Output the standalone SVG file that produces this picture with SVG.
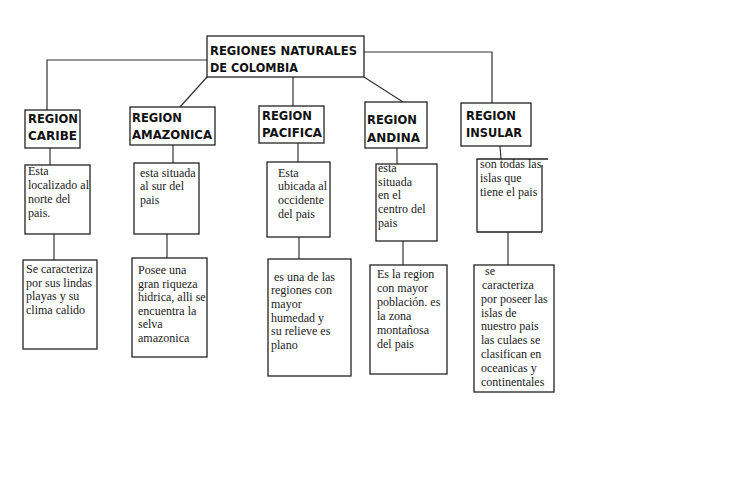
<svg xmlns="http://www.w3.org/2000/svg" width="735" height="485" viewBox="0 0 735 485">
<style>
.bx{fill:#fff;stroke:#222;stroke-width:1.3}
.ln{fill:none;stroke:#333;stroke-width:1.2}
.t{font-family:"DejaVu Sans","Liberation Sans",sans-serif;font-weight:bold;font-size:12px;fill:#111}
.b{font-family:"Liberation Serif","DejaVu Serif",serif;font-size:12px;fill:#222}
</style>
<rect width="735" height="485" fill="#fff"/>
<g id="connectors">
<polyline class="ln" points="207,60 47,60 47,110"/>
<line class="ln" x1="207" y1="77" x2="180" y2="107"/>
<line class="ln" x1="293" y1="77" x2="293" y2="106"/>
<line class="ln" x1="364" y1="77" x2="403" y2="102"/>
<polyline class="ln" points="364,52 492,52 492,103"/>
<line class="ln" x1="50" y1="148" x2="50" y2="165"/>
<line class="ln" x1="54" y1="234" x2="54" y2="260"/>
<line class="ln" x1="173" y1="145" x2="173" y2="163"/>
<line class="ln" x1="167" y1="234" x2="167" y2="258"/>
<line class="ln" x1="298" y1="143" x2="298" y2="162"/>
<line class="ln" x1="299" y1="237" x2="299" y2="259"/>
<line class="ln" x1="397" y1="148" x2="397" y2="164"/>
<line class="ln" x1="403" y1="241" x2="403" y2="265"/>
<line class="ln" x1="500" y1="146" x2="501" y2="159"/>
<line class="ln" x1="508" y1="232" x2="508" y2="265"/>
</g>
<g id="root">
<rect class="bx" x="207" y="36" width="157" height="41"/>
<text class="t" x="210" y="55" textLength="147" lengthAdjust="spacingAndGlyphs">REGIONES NATURALES</text>
<text class="t" x="210" y="72" textLength="88" lengthAdjust="spacingAndGlyphs">DE COLOMBIA</text>
</g>
<g id="caribe">
<rect class="bx" x="25" y="110" width="55" height="38"/>
<text class="t" x="28" y="123" textLength="50" lengthAdjust="spacingAndGlyphs">REGION</text>
<text class="t" x="28" y="140" textLength="49" lengthAdjust="spacingAndGlyphs">CARIBE</text>
</g>
<g id="amazonica">
<rect class="bx" x="130" y="107" width="85" height="38"/>
<text class="t" x="132" y="122" textLength="50" lengthAdjust="spacingAndGlyphs">REGION</text>
<text class="t" x="132" y="139" textLength="80" lengthAdjust="spacingAndGlyphs">AMAZONICA</text>
</g>
<g id="pacifica">
<rect class="bx" x="259" y="106" width="65" height="37"/>
<text class="t" x="262" y="120" textLength="50" lengthAdjust="spacingAndGlyphs">REGION</text>
<text class="t" x="262" y="137" textLength="60" lengthAdjust="spacingAndGlyphs">PACIFICA</text>
</g>
<g id="andina">
<rect class="bx" x="365" y="102" width="62" height="46"/>
<text class="t" x="367" y="124" textLength="50" lengthAdjust="spacingAndGlyphs">REGION</text>
<text class="t" x="367" y="142" textLength="53" lengthAdjust="spacingAndGlyphs">ANDINA</text>
</g>
<g id="insular">
<rect class="bx" x="461" y="103" width="70" height="43"/>
<text class="t" x="466" y="120" textLength="50" lengthAdjust="spacingAndGlyphs">REGION</text>
<text class="t" x="466" y="137" textLength="56" lengthAdjust="spacingAndGlyphs">INSULAR</text>
</g>
<g id="caribe-desc1">
<rect class="bx" x="25" y="165" width="65" height="69"/>
<text class="b" x="28" y="175">Esta</text>
<text class="b" x="28" y="189">localizado al</text>
<text class="b" x="28" y="203">norte del</text>
<text class="b" x="28" y="217">pais.</text>
</g>
<g id="caribe-desc2">
<rect class="bx" x="23" y="260" width="74" height="89"/>
<text class="b" x="26" y="273">Se caracteriza</text>
<text class="b" x="26" y="287">por sus lindas</text>
<text class="b" x="26" y="300">playas y su</text>
<text class="b" x="26" y="314">clima calido</text>
</g>
<g id="amazonica-desc1">
<rect class="bx" x="134" y="163" width="65" height="71"/>
<text class="b" x="140" y="177">esta situada</text>
<text class="b" x="140" y="190">al sur del</text>
<text class="b" x="140" y="204">pais</text>
</g>
<g id="amazonica-desc2">
<rect class="bx" x="132" y="258" width="75" height="99"/>
<text class="b" x="138" y="274">Posee una</text>
<text class="b" x="138" y="288">gran riqueza</text>
<text class="b" x="138" y="301">hidrica, alli se</text>
<text class="b" x="138" y="315">encuentra la</text>
<text class="b" x="138" y="328">selva</text>
<text class="b" x="138" y="342">amazonica</text>
</g>
<g id="pacifica-desc1">
<rect class="bx" x="267" y="162" width="63" height="75"/>
<text class="b" x="278" y="177">Esta</text>
<text class="b" x="278" y="190">ubicada al</text>
<text class="b" x="278" y="204">occidente</text>
<text class="b" x="278" y="218">del pais</text>
</g>
<g id="pacifica-desc2">
<rect class="bx" x="268" y="259" width="83" height="117"/>
<text class="b" x="271" y="281" xml:space="preserve"> es una de las</text>
<text class="b" x="271" y="294">regiones con</text>
<text class="b" x="271" y="308">mayor</text>
<text class="b" x="271" y="322">humedad y</text>
<text class="b" x="271" y="335">su relieve es</text>
<text class="b" x="271" y="349">plano</text>
</g>
<g id="andina-desc1">
<rect class="bx" x="376" y="164" width="61" height="77"/>
<text class="b" x="378" y="172">esta</text>
<text class="b" x="378" y="186">situada</text>
<text class="b" x="378" y="199">en el</text>
<text class="b" x="378" y="213">centro del</text>
<text class="b" x="378" y="227">pais</text>
</g>
<g id="andina-desc2">
<rect class="bx" x="370" y="265" width="77" height="109"/>
<text class="b" x="377" y="278">Es la region</text>
<text class="b" x="377" y="292">con mayor</text>
<text class="b" x="377" y="306">población. es</text>
<text class="b" x="377" y="320">la zona</text>
<text class="b" x="377" y="334">montañosa</text>
<text class="b" x="377" y="348">del pais</text>
</g>
<g id="insular-desc1">
<path class="bx" d="M542,232 L477,232 L477,159 L548,159 M542,165 L542,232"/>
<text class="b" x="480" y="168">son todas las</text>
<text class="b" x="480" y="182">islas que</text>
<text class="b" x="480" y="196">tiene el pais</text>
</g>
<g id="insular-desc2">
<rect class="bx" x="474" y="265" width="80" height="127"/>
<text class="b" x="485" y="275">se</text>
<text class="b" x="482" y="289">caracteriza</text>
<text class="b" x="481" y="303">por poseer las</text>
<text class="b" x="481" y="317">islas de</text>
<text class="b" x="481" y="330">nuestro pais</text>
<text class="b" x="481" y="344">las culaes se</text>
<text class="b" x="481" y="358">clasifican en</text>
<text class="b" x="481" y="372">oceanicas y</text>
<text class="b" x="481" y="386">continentales</text>
</g>
</svg>
